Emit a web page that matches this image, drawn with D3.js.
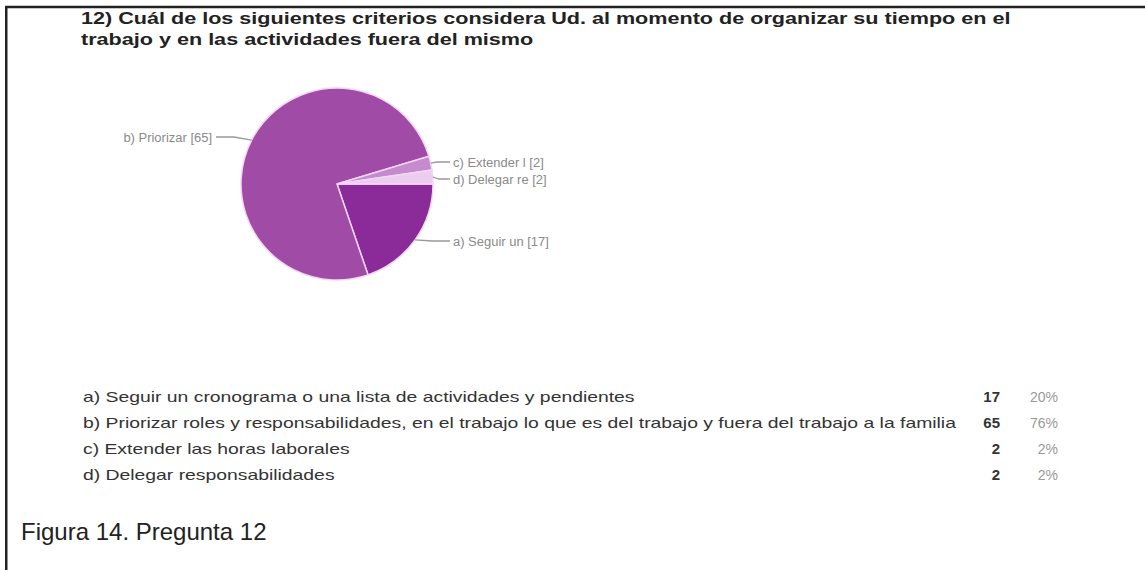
<!DOCTYPE html>
<html><head><meta charset="utf-8">
<script src="https://cdn.jsdelivr.net/npm/d3@7"></script>
<style>body{margin:0;background:#fff}svg{display:block}</style>
</head><body>
<svg id="c" width="1145" height="570"></svg>
<script>
const titleLines = ["12) Cuál de los siguientes criterios considera Ud. al momento de organizar su tiempo en el",
                    "trabajo y en las actividades fuera del mismo"];
const keys = ["a", "b", "c", "d"];
const shortLabels = ["a) Seguir un [17]", "b) Priorizar [65]", "c) Extender l [2]", "d) Delegar re [2]"];
const fullLabels = ["a) Seguir un cronograma o una lista de actividades y pendientes",
  "b) Priorizar roles y responsabilidades, en el trabajo lo que es del trabajo y fuera del trabajo a la familia",
  "c) Extender las horas laborales",
  "d) Delegar responsabilidades"];
const counts = [17, 65, 2, 2];
const percents = ["20%", "76%", "2%", "2%"];
const colors = ["#8b2a99", "#a04ca6", "#c68bcd", "#eccdf0"];
const caption = "Figura 14. Pregunta 12";

const FONT = "Liberation Sans, Arial, sans-serif";
const svg = d3.select("#c");
// frame
svg.append("line").attr("x1",5).attr("x2",1145).attr("y1",7).attr("y2",7).attr("stroke","#222").attr("stroke-width",2.5);
svg.append("line").attr("x1",6.25).attr("x2",6.25).attr("y1",6).attr("y2",570).attr("stroke","#222").attr("stroke-width",2.5);

function stretchGroup(gSel, x0, refNode, targetW){
  const w = refNode.getComputedTextLength();
  const s = targetW / w;
  gSel.attr("transform",`translate(${x0},0) scale(${s},1) translate(${-x0},0)`);
}

// title
const tG = svg.append("g");
const tT = tG.selectAll("text").data(titleLines).join("text")
  .attr("x",81).attr("y",(d,i)=>24+i*21)
  .attr("font-family",FONT).attr("font-weight","bold")
  .attr("font-size",17).attr("fill","#222").text(d=>d);
stretchGroup(tG, 81, tT.nodes()[0], 930);

// pie
const cx=337, cy=184, r=96;
const pie = d3.pie().sort(null).value(d=>d).startAngle(Math.PI/2).endAngle(Math.PI/2+2*Math.PI);
const arcs = pie(counts);
const arc = d3.arc().innerRadius(0).outerRadius(r);
const g = svg.append("g").attr("transform",`translate(${cx},${cy})`);
g.selectAll("path").data(arcs).join("path").attr("d",arc)
  .attr("fill",(d,i)=>colors[i]).attr("stroke","#f3d6f5").attr("stroke-width",1.5);

// callout labels
const labelPos = [
  {lx: 453, ly: 245, anchor: "start"},
  {lx: 212, ly: 141, anchor: "end"},
  {lx: 453, ly: 166, anchor: "start"},
  {lx: 453, ly: 183, anchor: "start"}
];
const lg = svg.append("g");
arcs.forEach((a,i)=>{
  const mid=(a.startAngle+a.endAngle)/2;
  const px=cx+Math.sin(mid)*r, py=cy-Math.cos(mid)*r;
  const p=labelPos[i];
  const ex = p.anchor==="start"? p.lx-3 : p.lx+4;
  const bx = p.anchor==="start"? Math.max(px+6, ex-18) : Math.min(px-6, ex+18);
  lg.append("path").attr("d",`M${px},${py} L${bx},${p.ly-4} L${ex},${p.ly-4}`)
    .attr("fill","none").attr("stroke","#999").attr("stroke-width",1.3);
  const t = lg.append("text").attr("x",p.lx).attr("y",p.ly+1).attr("text-anchor",p.anchor)
    .attr("font-family",FONT).attr("font-size",12)
    .attr("fill","#8a8a8a").text(shortLabels[i]);
  const w = t.node().getComputedTextLength();
  t.attr("textLength", w*1.08).attr("lengthAdjust","spacingAndGlyphs");
});

// table
const y = d3.scalePoint().domain(keys).range([402,480]);
const tg = svg.append("g").attr("font-family",FONT);
const lblG = tg.append("g");
const lbl = lblG.selectAll("text.l").data(keys).join("text").attr("class","l")
  .attr("x",83).attr("y",k=>y(k)).attr("font-size",14).attr("fill","#333")
  .text((k,i)=>fullLabels[i]);
stretchGroup(lblG, 83, lbl.nodes()[1], 874);
tg.selectAll("text.n").data(keys).join("text").attr("class","n")
  .attr("x",1000).attr("y",k=>y(k)).attr("text-anchor","end").attr("font-size",15)
  .attr("font-weight","bold").attr("fill","#333").text((k,i)=>counts[i]);
tg.selectAll("text.p").data(keys).join("text").attr("class","p")
  .attr("x",1058).attr("y",k=>y(k)).attr("text-anchor","end").attr("font-size",14)
  .attr("fill","#999").text((k,i)=>percents[i]);

// caption
svg.append("text").attr("x",21).attr("y",540).attr("font-family",FONT)
  .attr("font-size",24).attr("fill","#222").text(caption);
</script>
</body></html>
